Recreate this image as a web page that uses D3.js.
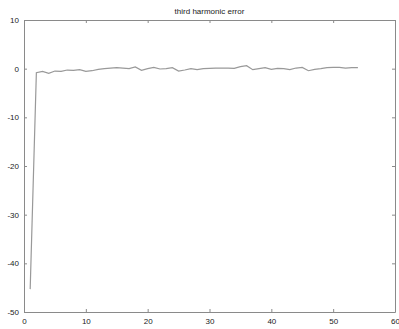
<!DOCTYPE html>
<html>
<head>
<meta charset="utf-8">
<title>third harmonic error</title>
<script src="https://d3js.org/d3.v7.min.js"></script>
<style>
body { margin: 0; background: #fff; }
svg { font-family: "Liberation Sans", Arial, sans-serif; }
.axis path, .axis line { stroke: #8a8a8a; }
.axis text { fill: #222; font-size: 8px; }
.title { font-size: 8px; fill: #222; }
.line { fill: none; stroke: #999; stroke-width: 1.2; }
</style>
</head>
<body>
<div id="chart"></div>
<script>

var title = "third harmonic error";

// harmonic index 1..54
var xs = d3.range(1, 55);
var errs = [
  -45.3, -0.82, -0.55, -0.96, -0.49, -0.55, -0.28, -0.35, -0.21, -0.55,
  -0.42, -0.14, 0.0, 0.13, 0.2, 0.13, 0.0, 0.34, -0.35, 0.0,
  0.27, -0.07, 0.0, 0.2, -0.49, -0.28, 0.0, -0.2, 0.0, 0.07,
  0.13, 0.13, 0.13, 0.07, 0.41, 0.6, -0.2, 0.0, 0.2, -0.14,
  0.07, 0.0, -0.2, 0.13, 0.27, -0.42, -0.14, 0.0, 0.2, 0.27,
  0.27, 0.13, 0.2, 0.2
];

var xTicks = [0, 10, 20, 30, 40, 50, 60];
var yTicks = [10, 0, -10, -20, -30, -40, -50];

var width = 399, height = 329;
var margin = {top: 20, right: 4, bottom: 17, left: 24};
var w = width - margin.left - margin.right;
var h = height - margin.top - margin.bottom;

var svg = d3.select("#chart").append("svg")
  .attr("width", width)
  .attr("height", height);

var g = svg.append("g")
  .attr("transform", `translate(${margin.left}, ${margin.top})`);

var xScale = d3.scaleLinear().domain([0, 60]).range([0, w]);
var yScale = d3.scaleLinear().domain([-50, 10]).range([h, 0]);

/* axes, ticks pointing inward on all four sides */
g.append("g")
  .attr("class", "axis")
  .attr("transform", `translate(0, ${h})`)
  .call(d3.axisBottom(xScale).tickValues(xTicks).tickSizeInner(-3).tickSizeOuter(0).tickPadding(6));

g.append("g")
  .attr("class", "axis")
  .call(d3.axisTop(xScale).tickValues(xTicks).tickSizeInner(-3).tickSizeOuter(0).tickFormat(""));

g.append("g")
  .attr("class", "axis")
  .call(d3.axisLeft(yScale).tickValues(yTicks).tickSizeInner(-3).tickSizeOuter(0).tickPadding(5));

g.append("g")
  .attr("class", "axis")
  .attr("transform", `translate(${w}, 0)`)
  .call(d3.axisRight(yScale).tickValues(yTicks).tickSizeInner(-3).tickSizeOuter(0).tickFormat(""));

g.selectAll(".axis .tick text").text(function() {
  return this.textContent.replace("\u2212", "-");
});

/* data line */
var line = d3.line()
  .x((d, i) => xScale(xs[i]))
  .y(d => yScale(d));

g.append("path")
  .attr("class", "line")
  .attr("d", line(errs));

g.append("text")
  .attr("class", "title")
  .attr("x", w / 2)
  .attr("y", -6)
  .attr("text-anchor", "middle")
  .text(title);

</script>
</body>
</html>
